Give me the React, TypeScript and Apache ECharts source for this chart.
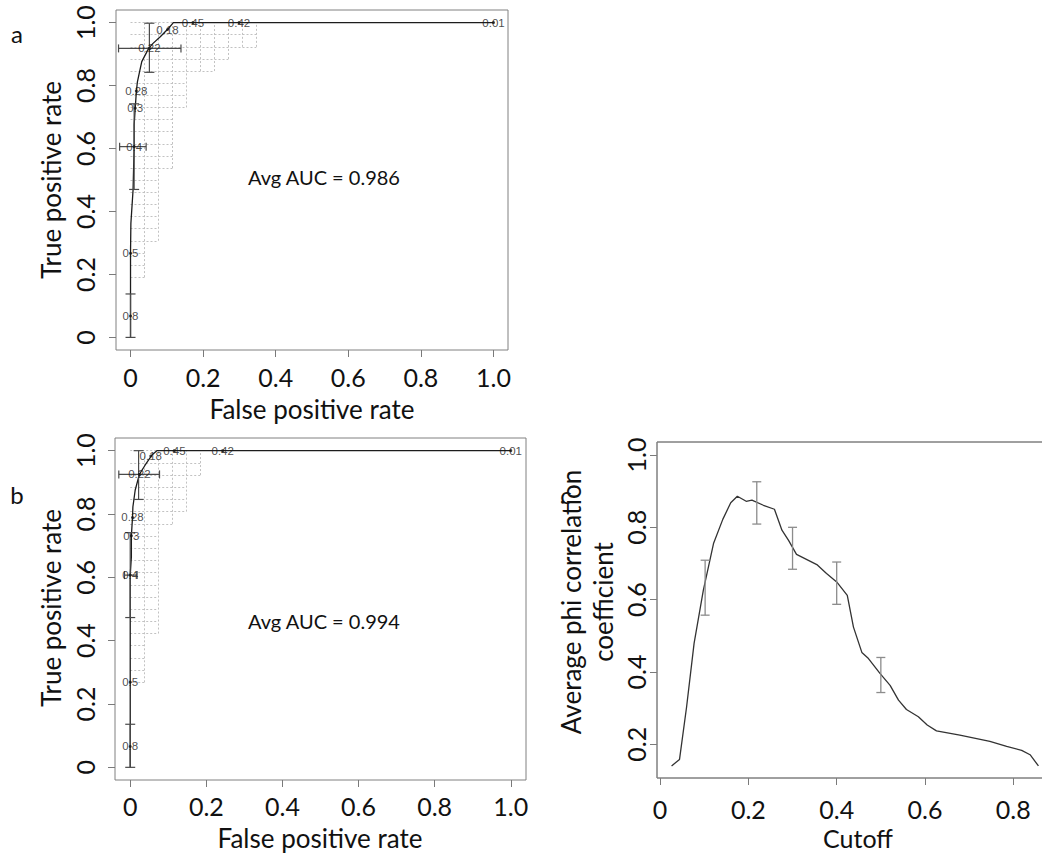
import React, { useEffect, useRef } from 'react';
import * as echarts from 'echarts';

// ---------- data ----------
const rocTicks = [0, 0.2, 0.4, 0.6, 0.8, 1.0];
const cutoffTicks = [0, 0.2, 0.4, 0.6, 0.8];
const phiTicks = [0.2, 0.4, 0.6, 0.8, 1.0];

// Panel a: averaged ROC curve [FPR, TPR]
const rocA = [
  [0, 0], [0, 0.267], [0.001, 0.362], [0.007, 0.468], [0.010, 0.606], [0.010, 0.675],
  [0.013, 0.728], [0.016, 0.780], [0.019, 0.812], [0.025, 0.844], [0.031, 0.876],
  [0.050, 0.918], [0.062, 0.934], [0.082, 0.955], [0.105, 0.982], [0.118, 1.0], [1.0, 1.0],
];
// cutoff labels [label, FPR, TPR]
const cutoffsA: [string, number, number][] = [
  ['0.8', 0, 0.068], ['0.5', 0, 0.267], ['0.4', 0.010, 0.606], ['0.3', 0.013, 0.728],
  ['0.28', 0.016, 0.783], ['0.22', 0.052, 0.918], ['0.18', 0.102, 0.978],
  ['0.45', 0.172, 1.0], ['0.42', 0.299, 1.0], ['0.01', 1.0, 1.0],
];
// vertical error bars [FPR, TPR low, TPR high]
const vErrA = [[0.052, 0.842, 0.998], [0.010, 0.470, 0.742], [0, 0, 0.138]];
// horizontal error bars [TPR, FPR low, FPR high]
const hErrA = [[0.918, -0.033, 0.139], [0.606, -0.030, 0.043]];
// outer envelope of the per-fold step curves [FPR edge, lowest TPR]
const foldEnvA = [[0.346, 0.923], [0.269, 0.885], [0.231, 0.846], [0.154, 0.731], [0.115, 0.538], [0.077, 0.308], [0.038, 0.192]];
const foldStepA = [0.0385, 0.0385];

// Panel b
const rocB = [
  [0, 0], [0, 0.607], [0.003, 0.664], [0.003, 0.731], [0.006, 0.789], [0.007, 0.822],
  [0.013, 0.875], [0.024, 0.925], [0.039, 0.954], [0.057, 0.986], [0.070, 1.0], [1.0, 1.0],
];
const cutoffsB: [string, number, number][] = [
  ['0.8', 0, 0.066], ['0.5', 0, 0.269], ['0.4', 0, 0.607], ['0.3', 0.003, 0.731],
  ['0.28', 0.006, 0.789], ['0.22', 0.024, 0.925], ['0.18', 0.054, 0.983],
  ['0.45', 0.116, 1.0], ['0.42', 0.243, 1.0], ['0.01', 1.0, 1.0],
];
const vErrB = [[0.022, 0.846, 1.0], [0, 0.473, 0.741], [0, 0, 0.136]];
const hErrB = [[0.925, -0.030, 0.077], [0.607, -0.015, 0.018]];
const foldEnvB = [[0.184, 0.923], [0.147, 0.808], [0.110, 0.769], [0.0736, 0.423], [0.0368, 0.269]];
const foldStepB = [0.0368, 0.0385];

// Panel c: average phi correlation vs cutoff
const cutoffX = [0.026, 0.044, 0.060, 0.077, 0.098, 0.121, 0.142, 0.160, 0.175, 0.195, 0.208, 0.234,
  0.259, 0.276, 0.291, 0.309, 0.355, 0.377, 0.400, 0.424, 0.438, 0.457, 0.472, 0.498, 0.521, 0.540,
  0.558, 0.585, 0.605, 0.626, 0.679, 0.747, 0.785, 0.819, 0.838, 0.857];
const phiY = [0.140, 0.158, 0.303, 0.479, 0.626, 0.755, 0.822, 0.868, 0.886, 0.872, 0.875, 0.861,
  0.850, 0.792, 0.764, 0.725, 0.697, 0.672, 0.649, 0.612, 0.524, 0.454, 0.437, 0.396, 0.363, 0.322,
  0.296, 0.276, 0.253, 0.237, 0.225, 0.208, 0.194, 0.183, 0.171, 0.140];
const phiErr = [[0.102, 0.557, 0.709], [0.219, 0.809, 0.926], [0.300, 0.684, 0.800], [0.400, 0.587, 0.704], [0.500, 0.343, 0.440]];

// ---------- helpers ----------
const FONT = 'Lato, "Open Sans", sans-serif';
const RFONT = '"Liberation Sans", Arial, sans-serif';
const C_XMIN = -0.007, C_XMAX = 0.8673, C_YMIN = 0.1066, C_YMAX = 1.036;

function foldGrid(env: number[][], step: number[]) {
  const [sx, sy] = step;
  const segs: number[][][] = [];
  const maxEdge = Math.max(...env.map((e) => e[0]));
  const minBottom = Math.min(...env.map((e) => e[1]));
  const K = Math.round(maxEdge / sx);
  for (let k = 1; k <= K; k++) {
    const x = k * sx;
    const b = Math.min(...env.filter((e) => e[0] >= x - 0.005).map((e) => e[1]));
    const bs = 1 - Math.round((1 - b) / sy) * sy;
    segs.push([[x, bs], [x, 1]]);
  }
  const M = Math.round((1 - minBottom) / sy);
  for (let m = 0; m <= M; m++) {
    const y = 1 - m * sy;
    const r = Math.max(...env.filter((e) => e[1] <= y + 0.005).map((e) => e[0]));
    segs.push([[0, y], [Math.round(r / sx) * sx, y]]);
  }
  return segs;
}

function errRender(orient: 'v' | 'h', cap: number, color: string, lw: number) {
  return (params: any, api: any) => {
    const a = api.value(0), lo = api.value(1), hi = api.value(2);
    const ls: number[][] = [];
    if (orient === 'v') {
      const p1 = api.coord([a, lo]);
      const p2 = api.coord([a, hi]);
      ls.push([p1[0], p1[1], p2[0], p2[1]]);
      ls.push([p1[0] - cap, p1[1], p1[0] + cap, p1[1]]);
      ls.push([p2[0] - cap, p2[1], p2[0] + cap, p2[1]]);
    } else {
      const p1 = api.coord([lo, a]);
      const p2 = api.coord([hi, a]);
      ls.push([p1[0], p1[1], p2[0], p2[1]]);
      ls.push([p1[0], p1[1] - cap, p1[0], p1[1] + cap]);
      ls.push([p2[0], p2[1] - cap, p2[0], p2[1] + cap]);
    }
    return {
      type: 'group',
      children: ls.map((l) => ({
        type: 'line',
        shape: { x1: l[0], y1: l[1], x2: l[2], y2: l[3] },
        style: { stroke: color, lineWidth: lw },
      })),
    };
  };
}

const tickFmt = (v: number) => (v === 0 ? '0' : v.toFixed(1));
const AXIS_GRAY = '#7a7a7a';

function xAxisFor(gi: number, min: number, max: number, ticks: number[], margin: number) {
  return {
    type: 'value', gridIndex: gi, min, max, position: 'bottom',
    axisLine: { show: false, onZero: false }, splitLine: { show: false },
    axisTick: { show: true, length: 7, customValues: ticks, lineStyle: { color: AXIS_GRAY, width: 1 } },
    axisLabel: { customValues: ticks, formatter: tickFmt, fontSize: 25, fontFamily: FONT, color: '#111', margin },
  };
}
function yAxisFor(gi: number, min: number, max: number, ticks: number[], margin: number, showLabel = true) {
  return {
    type: 'value', gridIndex: gi, min, max, position: 'left',
    axisLine: { show: false, onZero: false }, splitLine: { show: false },
    axisTick: { show: true, length: 7, customValues: ticks, lineStyle: { color: AXIS_GRAY, width: 1 } },
    axisLabel: { show: showLabel, customValues: ticks, formatter: tickFmt, rotate: 90, fontSize: 25, fontFamily: FONT, color: '#111', margin },
  };
}

function rocSeries(gi: number, roc: number[][], cut: [string, number, number][], vErr: number[][], hErr: number[][], env: number[][], step: number[]) {
  return [
    {
      type: 'lines', coordinateSystem: 'cartesian2d', xAxisIndex: gi, yAxisIndex: gi, silent: true, z: 1,
      polyline: false,
      lineStyle: { color: '#c2c2c2', width: 1, type: [2, 2], opacity: 1 },
      data: foldGrid(env, step).map((s) => ({ coords: s })),
    },
    {
      type: 'line', xAxisIndex: gi, yAxisIndex: gi, data: roc, showSymbol: false, z: 3,
      lineStyle: { color: '#1c1c1c', width: 1.3 },
    },
    {
      type: 'custom', xAxisIndex: gi, yAxisIndex: gi, data: vErr, z: 4,
      renderItem: errRender('v', 5, '#4a4a4a', 1.2),
    },
    {
      type: 'custom', xAxisIndex: gi, yAxisIndex: gi, data: hErr, z: 4,
      renderItem: errRender('h', 4, '#4a4a4a', 1.2),
    },
    {
      type: 'scatter', xAxisIndex: gi, yAxisIndex: gi, symbolSize: 3, z: 5,
      itemStyle: { color: '#111' },
      data: cut.map((c) => ({ name: c[0], value: [c[1], c[2]] })),
      label: { show: true, position: 'inside', formatter: '{b}', fontSize: 11.5, fontFamily: RFONT, color: '#1a1a1a' },
    },
  ];
}

function txt(text: string, x: number, y: number, size: number, rot = 0, vAlign = 'middle') {
  return {
    type: 'text', x, y, rotation: rot,
    style: { text, fontSize: size, fontFamily: FONT, fill: '#111', align: 'center', verticalAlign: vAlign },
  };
}

export default function App() {
  const ref = useRef<HTMLDivElement>(null);
  useEffect(() => {
    if (!ref.current) return;
    const chart = echarts.init(ref.current, null, { renderer: 'svg' });
    const gridStyle = { show: true, borderColor: '#808080', borderWidth: 1, backgroundColor: 'transparent', outerBoundsMode: 'none', containLabel: false };
    const baseGraphic: any[] = [
      txt('a', 17, 33, 24),
      txt('b', 17, 494, 24),
      txt('c', 566, 494, 24),
      txt('False positive rate', 312, 409, 26),
      txt('False positive rate', 320, 838, 26),
      txt('True positive rate', 51, 180, 26, Math.PI / 2),
      txt('True positive rate', 51, 608, 26, Math.PI / 2),
      txt('Cutoff', 858, 838, 25),
      txt('Average phi correlation', 571, 602, 26, Math.PI / 2),
      txt('coefficient', 603, 602, 26, Math.PI / 2),
      txt('Avg AUC = 0.986', 324, 177, 20),
      txt('Avg AUC = 0.994', 324, 621, 20),
    ];
    const option: any = {
      animation: false,
      backgroundColor: '#ffffff',
      grid: [
        { left: 116, top: 10, width: 392, height: 340, ...gridStyle },
        { left: 115, top: 438, width: 411, height: 342, ...gridStyle },
        { left: 657, top: 442, width: 386, height: 336, ...gridStyle },
      ],
      xAxis: [
        xAxisFor(0, -0.04, 1.04, rocTicks, 14),
        xAxisFor(1, -0.04, 1.04, rocTicks, 13),
        xAxisFor(2, C_XMIN, C_XMAX, cutoffTicks, 18),
      ],
      yAxis: [
        yAxisFor(0, -0.04, 1.04, rocTicks, 19),
        yAxisFor(1, -0.04, 1.04, rocTicks, 18),
        yAxisFor(2, C_YMIN, C_YMAX, phiTicks, 9, false),
      ],
      series: [
        ...rocSeries(0, rocA, cutoffsA, vErrA, hErrA, foldEnvA, foldStepA),
        ...rocSeries(1, rocB, cutoffsB, vErrB, hErrB, foldEnvB, foldStepB),
        {
          type: 'line', xAxisIndex: 2, yAxisIndex: 2, showSymbol: false, z: 3,
          data: cutoffX.map((x, i) => [x, phiY[i]]),
          lineStyle: { color: '#333', width: 1.3 },
        },
        {
          type: 'custom', xAxisIndex: 2, yAxisIndex: 2, data: phiErr, z: 4,
          renderItem: errRender('v', 4.5, '#8c8c8c', 1.3),
        },
      ],
      graphic: baseGraphic,
    };
    chart.setOption(option);

    // panel c: box and rotated y tick labels, placed through the axis scales
    const finder = { xAxisIndex: 2, yAxisIndex: 2 };
    const tl = chart.convertToPixel(finder, [C_XMIN, C_YMAX]) as number[];
    const br = chart.convertToPixel(finder, [C_XMAX, C_YMIN]) as number[];
    const extra: any[] = [
      {
        type: 'rect', z: 10,
        shape: { x: tl[0], y: tl[1], width: br[0] - tl[0], height: br[1] - tl[1] },
        style: { fill: 'none', stroke: '#808080', lineWidth: 1 },
      },
      ...phiTicks.map((v) => {
        const p = chart.convertToPixel(finder, [C_XMIN, v]) as number[];
        return txt(tickFmt(v), p[0] - 9, p[1], 25, Math.PI / 2, 'bottom');
      }),
    ];
    chart.setOption({ graphic: [...baseGraphic, ...extra] });
    return () => chart.dispose();
  }, []);
  return (
    <div
      ref={ref}
      style={{ position: 'fixed', left: 0, top: 0, width: 1042, height: 855, background: '#fff' }}
    />
  );
}
